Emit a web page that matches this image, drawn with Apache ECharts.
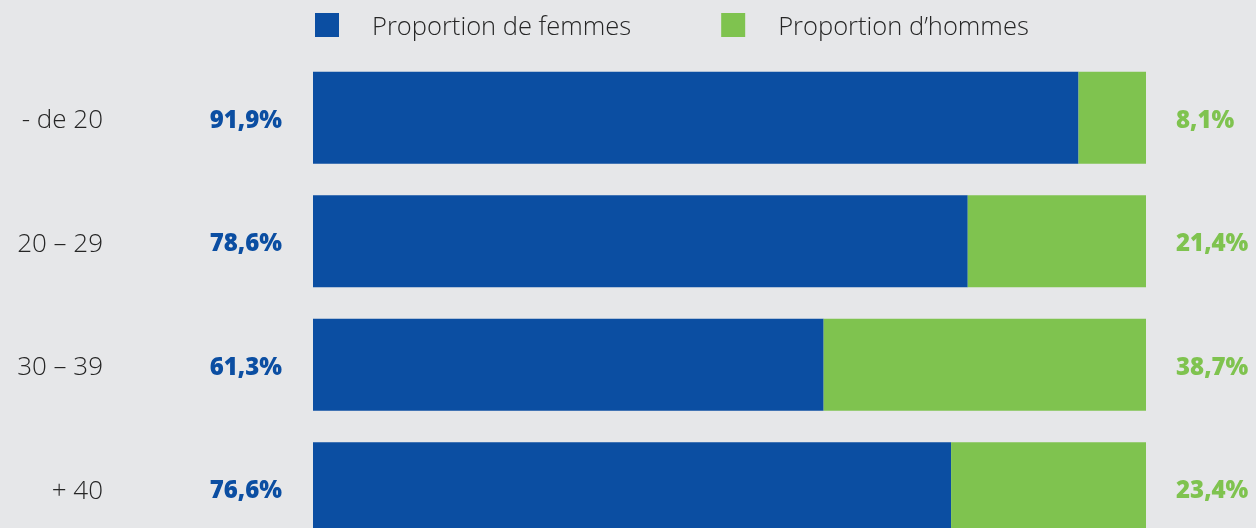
<!DOCTYPE html>
<html>
<head>
<meta charset="utf-8">
<script src="https://cdn.jsdelivr.net/npm/echarts@6/dist/echarts.min.js"></script>
<style>
  html, body { margin: 0; padding: 0; background: #e6e7e9; }
  #container { width: 1256px; height: 528px; }
</style>
</head>
<body>
<div id="container"></div>
<script>
// tranches d'âge
var categories = ['- de 20', '20 \u2013 29', '30 \u2013 39', '+ 40'];
var femmes = [91.9, 78.6, 61.3, 76.6];
var hommes = [8.1, 21.4, 38.7, 23.4];

var BLUE = '#0b4ea2';
var GREEN = '#7fc34f';

function pct(v) {
  return v.toFixed(1).replace('.', ',') + '%';
}

var chart = echarts.init(document.getElementById('container'));

var option = {
  backgroundColor: '#e6e7e9',
  animation: false,
  legend: {
    left: 315,
    top: 13,
    padding: 0,
    itemWidth: 24,
    itemHeight: 24,
    itemGap: 90,
    icon: 'rect',
    formatter: '{t|{name}}',
    textStyle: {
      rich: {
        t: {
          fontFamily: 'Open Sans',
          fontWeight: 300,
          fontSize: 25.5,
          color: '#262626',
          padding: [6, 0, 0, 28]
        }
      }
    },
    data: ['Proportion de femmes', 'Proportion d\u2019hommes']
  },
  grid: {
    left: 313,
    width: 833,
    top: 56,
    height: 494,
    outerBoundsMode: 'none'
  },
  xAxis: {
    type: 'value',
    min: 0,
    max: 100,
    show: false
  },
  yAxis: {
    type: 'category',
    inverse: true,
    data: categories,
    axisLine: { show: false },
    axisTick: { show: false },
    splitLine: { show: false },
    axisLabel: {
      margin: 210,
      formatter: function (v) { return '{c|' + v + '}'; },
      rich: {
        c: {
          fontFamily: 'Open Sans',
          fontWeight: 300,
          fontSize: 26,
          color: '#262626',
          padding: [6, 0, 0, 0]
        }
      }
    }
  },
  series: [
    {
      name: 'Proportion de femmes',
      type: 'bar',
      stack: 'total',
      barWidth: 92,
      itemStyle: { color: BLUE },
      data: femmes,
      label: {
        show: true,
        position: 'left',
        distance: 31,
        offset: [0, 3],
        formatter: function (p) { return pct(p.value); },
        fontFamily: 'Open Sans',
        fontWeight: 800,
        fontSize: 24,
        color: BLUE
      }
    },
    {
      name: 'Proportion d\u2019hommes',
      type: 'bar',
      stack: 'total',
      barWidth: 92,
      itemStyle: { color: GREEN },
      data: hommes,
      label: {
        show: true,
        position: 'right',
        distance: 30,
        offset: [0, 3],
        formatter: function (p) { return pct(p.value); },
        fontFamily: 'Open Sans',
        fontWeight: 800,
        fontSize: 24,
        color: GREEN
      }
    }
  ]
};

chart.setOption(option);
</script>
</body>
</html>
